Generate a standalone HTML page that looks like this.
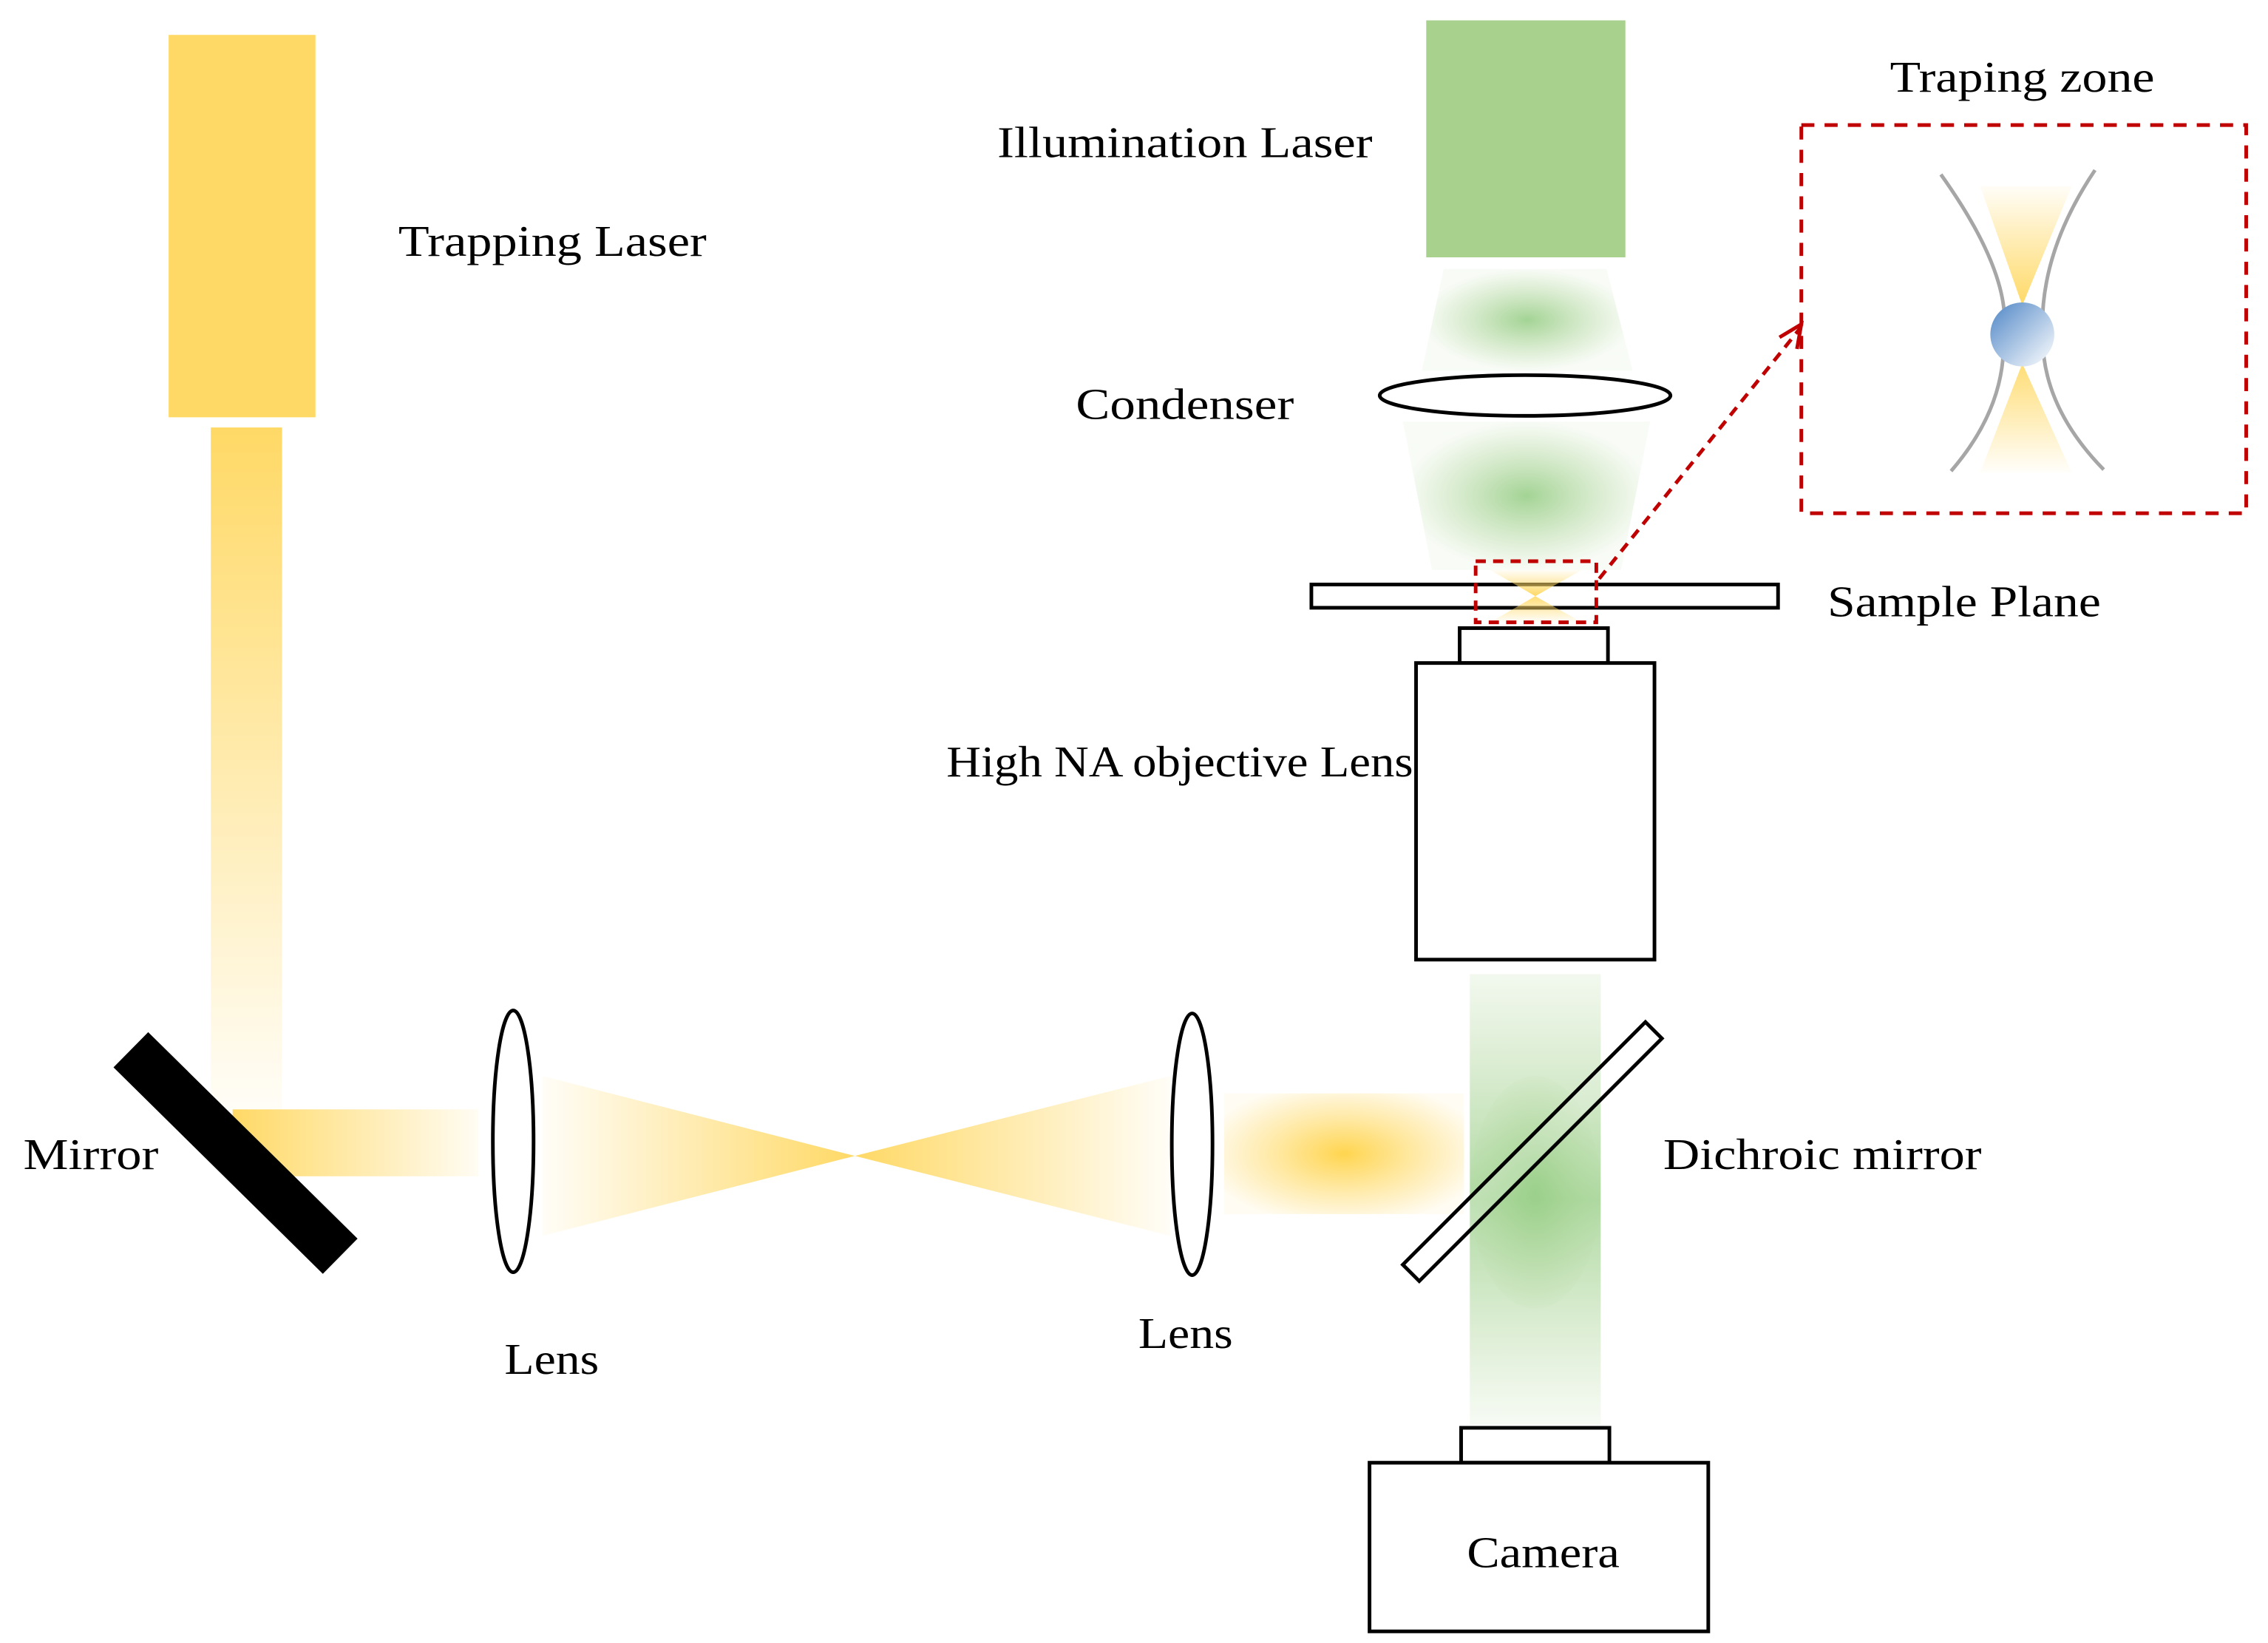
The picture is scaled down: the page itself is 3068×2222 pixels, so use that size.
<!DOCTYPE html>
<html><head><meta charset="utf-8"><style>
html,body{margin:0;padding:0;background:#fff;}
svg{display:block;}
text{font-family:"Liberation Serif",serif;font-size:30px;fill:#000;}
</style></head><body>
<svg width="3068" height="2222" viewBox="0 0 1560 1130" preserveAspectRatio="none" xmlns="http://www.w3.org/2000/svg">
<defs>
<linearGradient id="gv" x1="0" y1="0" x2="0" y2="1"><stop offset="0" stop-color="#FFD966"/><stop offset="1" stop-color="#FFD966" stop-opacity="0.05"/></linearGradient>
<linearGradient id="gh" x1="0" y1="0" x2="1" y2="0"><stop offset="0" stop-color="#FFD966"/><stop offset="1" stop-color="#FFD966" stop-opacity="0.08"/></linearGradient>
<linearGradient id="gc1" x1="0" y1="0" x2="1" y2="0"><stop offset="0" stop-color="#FFD966" stop-opacity="0.05"/><stop offset="1" stop-color="#FFD966"/></linearGradient>
<linearGradient id="gc2" x1="0" y1="0" x2="1" y2="0"><stop offset="0" stop-color="#FFD966"/><stop offset="1" stop-color="#FFD966" stop-opacity="0.05"/></linearGradient>
<radialGradient id="ry" cx="0.5" cy="0.5" r="0.6"><stop offset="0" stop-color="#FFD54F"/><stop offset="1" stop-color="#FFD966" stop-opacity="0.08"/></radialGradient>
<radialGradient id="rg" cx="0.5" cy="0.5" r="0.5"><stop offset="0" stop-color="#8CC97A"/><stop offset="1" stop-color="#A9D18E" stop-opacity="0.1"/></radialGradient>
<linearGradient id="gcol" x1="0" y1="0" x2="0" y2="1"><stop offset="0" stop-color="#A9D18E" stop-opacity="0.15"/><stop offset="0.5" stop-color="#8CC97A" stop-opacity="0.7"/><stop offset="1" stop-color="#A9D18E" stop-opacity="0.1"/></linearGradient>
<linearGradient id="hgt" x1="0" y1="0" x2="0" y2="1"><stop offset="0" stop-color="#FFD966" stop-opacity="0.05"/><stop offset="1" stop-color="#FFD966"/></linearGradient>
<linearGradient id="hgb" x1="0" y1="0" x2="0" y2="1"><stop offset="0" stop-color="#FFD966" stop-opacity="0.9"/><stop offset="1" stop-color="#FFD966" stop-opacity="0.03"/></linearGradient>
<linearGradient id="blue" x1="0" y1="0" x2="1" y2="1"><stop offset="0" stop-color="#4F86C6"/><stop offset="1" stop-color="#FFFFFF"/></linearGradient>
</defs>

<rect x="116" y="24" width="101" height="263" fill="#FFD966"/>
<rect x="145" y="294" width="49" height="470" fill="url(#gv)"/>
<rect x="160" y="763" width="169" height="46" fill="url(#gh)"/>
<line x1="90" y1="722" x2="234" y2="864" stroke="#000" stroke-width="34"/>

<ellipse cx="353" cy="785" rx="14" ry="90" fill="#fff" stroke="#000" stroke-width="2.5"/>
<polygon points="373,740 373,850 588,795" fill="url(#gc1)"/>
<polygon points="588,795 805,740 805,850" fill="url(#gc2)"/>
<ellipse cx="820" cy="787" rx="14" ry="90" fill="#fff" stroke="#000" stroke-width="2.5"/>
<rect x="842" y="752" width="165" height="83" fill="url(#ry)"/>

<rect x="1011" y="670" width="90" height="310" fill="url(#gcol)"/>
<ellipse cx="1056" cy="820" rx="45" ry="80" fill="url(#rg)" opacity="0.6"/>
<g transform="translate(1054,792) rotate(-45)">
<rect x="-118" y="-8" width="236" height="16" fill="#fff" fill-opacity="0.2" stroke="#000" stroke-width="2.5"/>
</g>

<rect x="981" y="14" width="137" height="163" fill="#A9D18E"/>
<polygon points="993,185 1105,185 1123,255 978,255" fill="url(#rg)" opacity="0.8"/>
<ellipse cx="1049" cy="272" rx="100" ry="14" fill="#fff" stroke="#000" stroke-width="2.5"/>
<polygon points="965,290 1135,290 1115,392 985,392" fill="url(#rg)" opacity="0.8"/>

<rect x="902" y="402" width="321" height="16" fill="#fff" stroke="#000" stroke-width="2.5"/>
<polygon points="1025,392 1088,392 1056,410" fill="url(#hgt)"/>
<polygon points="1056,410 1025,428 1088,428" fill="url(#hgb)"/>
<rect x="1015" y="386" width="83" height="42" fill="none" stroke="#C00000" stroke-width="2.5" stroke-dasharray="7,5"/>
<line x1="1100" y1="398" x2="1238" y2="226" stroke="#C00000" stroke-width="2.5" stroke-dasharray="7,5"/>
<polyline points="1224,232 1239,223 1236,240" fill="none" stroke="#C00000" stroke-width="2.5"/>

<rect x="1004" y="432" width="102" height="24" fill="#fff" stroke="#000" stroke-width="2.5"/>
<rect x="974" y="456" width="164" height="204" fill="#fff" stroke="#000" stroke-width="2.5"/>

<rect x="1005" y="982" width="102" height="24" fill="#fff" stroke="#000" stroke-width="2.5"/>
<rect x="942" y="1006" width="233" height="116" fill="#fff" stroke="#000" stroke-width="2.5"/>

<rect x="1239" y="86" width="306" height="267" fill="none" stroke="#C00000" stroke-width="2.5" stroke-dasharray="9,7"/>
<polygon points="1362,128 1425,128 1391,210" fill="url(#hgt)"/>
<polygon points="1391,250 1362,325 1425,325" fill="url(#hgb)"/>
<path d="M1335,120 Q1385,190 1378,232 Q1380,280 1342,324" fill="none" stroke="#A6A6A6" stroke-width="2.5"/>
<path d="M1441,117 Q1402,175 1405,232 Q1405,280 1447,323" fill="none" stroke="#A6A6A6" stroke-width="2.5"/>
<circle cx="1391" cy="230" r="22" fill="url(#blue)"/>

<text x="274" y="176" textLength="212" lengthAdjust="spacingAndGlyphs">Trapping Laser</text>
<text x="686" y="108" textLength="258" lengthAdjust="spacingAndGlyphs">Illumination Laser</text>
<text x="740" y="288" textLength="150" lengthAdjust="spacingAndGlyphs">Condenser</text>
<text x="1300" y="63" textLength="182" lengthAdjust="spacingAndGlyphs">Traping zone</text>
<text x="1257" y="424" textLength="188" lengthAdjust="spacingAndGlyphs">Sample Plane</text>
<text x="651" y="534" textLength="321" lengthAdjust="spacingAndGlyphs">High NA objective Lens</text>
<text x="16" y="804" textLength="93" lengthAdjust="spacingAndGlyphs">Mirror</text>
<text x="1144" y="804" textLength="219" lengthAdjust="spacingAndGlyphs">Dichroic mirror</text>
<text x="347" y="945" textLength="65" lengthAdjust="spacingAndGlyphs">Lens</text>
<text x="783" y="927" textLength="65" lengthAdjust="spacingAndGlyphs">Lens</text>
<text x="1009" y="1078" textLength="105" lengthAdjust="spacingAndGlyphs">Camera</text>
</svg>
</body></html>
